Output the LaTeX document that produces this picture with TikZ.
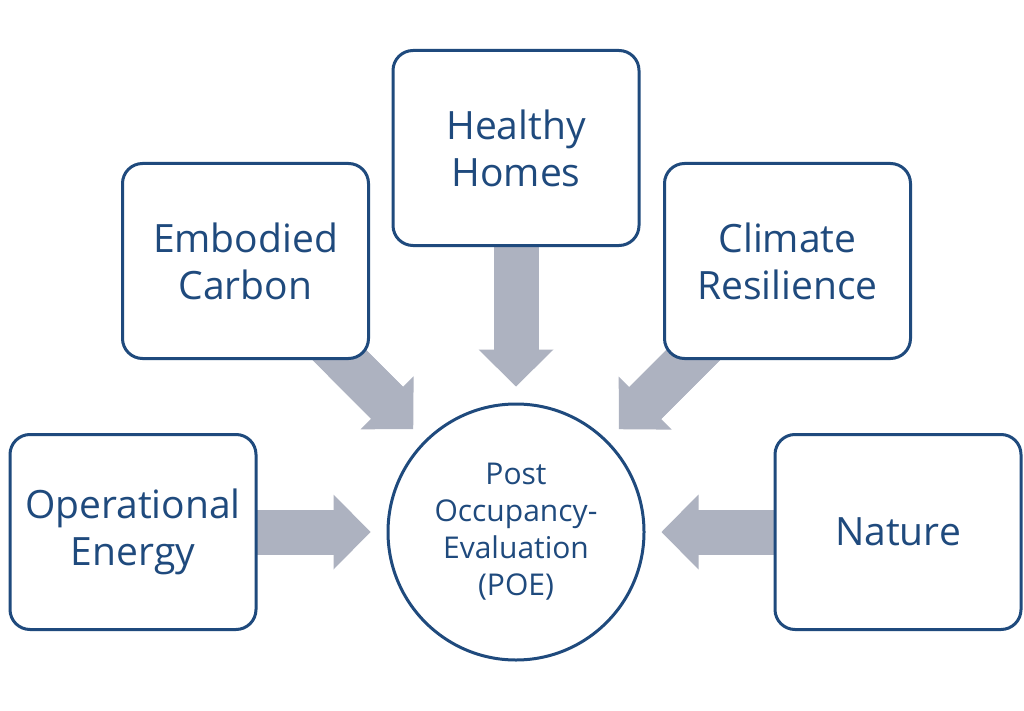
\documentclass[tikz,border=0pt]{standalone}
\usepackage{fontspec}
\setmainfont{Open Sans}
\usetikzlibrary{arrows.meta}
\pgfdeclarelayer{background}
\pgfsetlayers{background,main}
\definecolor{navy}{HTML}{1F4A7D}
\definecolor{agray}{HTML}{ADB2C0}
\begin{document}
\begin{tikzpicture}[x=1pt,y=-1pt,
  box/.style={draw=navy, line width=3pt, fill=white, rounded corners=20pt,
    minimum width=246pt, minimum height=195pt, inner sep=0pt, align=center,
    text=navy, font=\fontsize{39}{47}\selectfont},
  hub/.style={circle, draw=navy, line width=3pt, fill=white, minimum size=256pt,
    inner sep=0pt, align=center, text=navy, font=\fontsize{30}{37}\selectfont},
  flow/.style={draw=agray, line width=45pt, shorten >=16pt,
    -{Triangle[length=37pt,width=75pt,line width=0pt]}},
  shaft/.style={draw=agray, line width=45pt, shorten >=44pt}]
\useasboundingbox (0,0) rectangle (1024,711);

\node[hub] (poe) at (516,532) {Post\\Occupancy-\\Evaluation\\(POE)};
\node[box] (hh) at (516,148) {Healthy\\Homes};
\node[box] (ec) at (245.5,261) {Embodied\\Carbon};
\node[box] (cr) at (787.5,261) {Climate\\Resilience};
\node[box] (oe) at (133,532) {Operational\\Energy};
\node[box] (na) at (898,532) {Nature};

\begin{pgfonlayer}{background}
\fill[white] (0,0) rectangle (1024,711);
\foreach \src in {hh,ec,cr,oe,na}{
  \draw[flow] (\src.center) -- (poe);
  \draw[shaft] (\src.center) -- (poe);
}
\end{pgfonlayer}
\end{tikzpicture}
\end{document}
